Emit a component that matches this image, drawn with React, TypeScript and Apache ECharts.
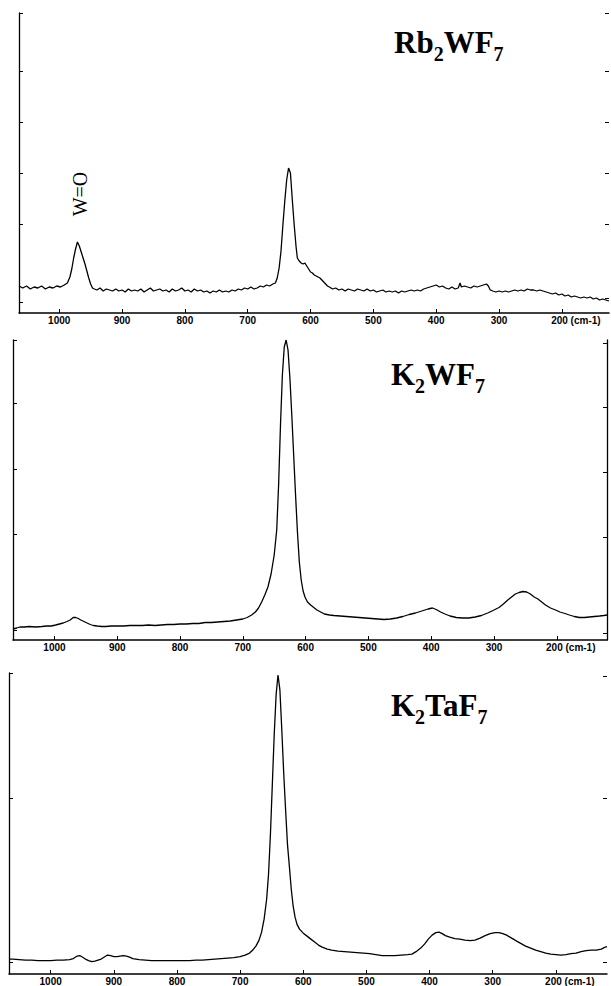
import React, { useEffect, useRef } from "react";
import * as echarts from "echarts";

const X_TICKS = [1000, 900, 800, 700, 600, 500, 400, 300, 200];

const P1_LEFT_TICKS = [300, 242, 191, 140, 89, 11];
const P1_RIGHT_TICKS = [300, 242, 191, 140, 89, 15];
const P2_LEFT_TICKS = [300, 237, 171, 106, 10];
const P2_RIGHT_TICKS = [297, 233, 168, 103, 7];
const P3_LEFT_TICKS = [302, 176, 12];
const P3_RIGHT_TICKS = [299, 176, 12];

const RB2WF7: [number, number][] = [
  [1064, 27], [1058, 25], [1052, 27], [1046, 24], [1040, 26], [1034, 25], [1028, 27], [1022, 24], [1016, 26], [1010, 25],
  [1004, 27], [998, 26], [992, 28], [987, 30], [983, 36], [980, 44], [977, 55], [974, 64], [971, 71], [968, 67],
  [965, 61], [962, 55], [959, 49], [956, 42], [953, 35], [950, 29], [947, 25], [944, 24], [940, 23], [935, 25],
  [930, 22], [925, 24], [920, 23], [915, 22], [910, 24], [905, 22], [900, 23], [895, 21], [890, 24], [885, 22],
  [880, 23], [875, 22], [870, 24], [865, 21], [860, 23], [855, 25], [850, 22], [845, 23], [840, 24], [835, 22],
  [830, 23], [825, 21], [820, 24], [815, 22], [810, 23], [805, 25], [800, 22], [795, 23], [790, 21], [785, 24],
  [780, 22], [775, 23], [770, 21], [765, 22], [760, 20], [755, 22], [750, 21], [745, 23], [740, 21], [735, 22],
  [730, 21], [725, 23], [720, 22], [715, 24], [710, 23], [705, 25], [700, 24], [695, 26], [690, 24], [685, 25],
  [680, 27], [675, 26], [670, 28], [665, 27], [660, 29], [656, 30], [653, 35], [650, 45], [647, 62], [644, 88],
  [641, 112], [638, 133], [635, 145], [632, 140], [629, 113], [626, 88], [623, 66], [621, 55], [618, 52], [615, 50],
  [612, 49], [609, 50], [606, 47], [603, 44], [600, 41], [597, 40], [594, 38], [591, 37], [588, 36], [585, 35],
  [582, 33], [579, 31], [576, 29], [573, 27], [570, 26], [565, 24], [560, 25], [555, 23], [550, 24], [545, 22],
  [540, 24], [535, 23], [530, 22], [525, 24], [520, 23], [515, 22], [510, 24], [505, 22], [500, 23], [495, 21],
  [490, 22], [485, 23], [480, 21], [475, 22], [470, 21], [465, 22], [460, 20], [455, 22], [450, 21], [445, 22],
  [440, 23], [435, 22], [430, 23], [425, 22], [420, 24], [415, 25], [410, 26], [405, 27], [400, 28], [395, 26],
  [390, 27], [385, 25], [380, 24], [375, 26], [370, 24], [365, 25], [362, 30], [360, 26], [355, 27], [350, 26],
  [345, 25], [340, 27], [335, 26], [330, 27], [325, 28], [320, 29], [317, 27], [314, 23], [310, 22], [305, 21],
  [300, 22], [295, 21], [290, 22], [285, 21], [280, 22], [275, 23], [270, 22], [265, 23], [260, 22], [255, 24],
  [250, 23], [245, 23], [240, 22], [235, 23], [230, 22], [225, 21], [220, 20], [215, 19], [210, 20], [205, 18],
  [200, 19], [195, 17], [190, 18], [185, 16], [180, 17], [175, 16], [170, 15], [165, 16], [160, 15], [155, 16],
  [150, 14], [145, 15], [140, 13], [135, 14], [130, 13], [125, 12],
];

const K2WF7: [number, number][] = [
  [1066, 11], [1060, 12], [1055, 13], [1048, 13], [1040, 13.5], [1030, 13], [1020, 13.5], [1012, 14], [1005, 14], [998, 15],
  [992, 16], [986, 17], [980, 18.5], [975, 20], [970, 22.5], [966, 22.5], [962, 21.5], [958, 20], [953, 18.5], [948, 17],
  [943, 15.5], [938, 14.5], [932, 14], [925, 13.5], [918, 13.5], [910, 14], [900, 14], [890, 14], [880, 14.5], [870, 14.5],
  [860, 14.5], [850, 15], [840, 14.5], [830, 15], [820, 15.5], [810, 15.5], [800, 16], [790, 16], [780, 16.5], [770, 16.5],
  [760, 17.5], [750, 17.5], [740, 18], [730, 18.5], [720, 19], [710, 20], [700, 21], [693, 22.5], [686, 25], [680, 28],
  [675, 32], [670, 38], [665, 45], [660, 53], [655, 66], [650, 85], [646, 110], [643, 155], [640, 215], [637, 265],
  [634, 293], [631, 300], [628, 290], [625, 262], [622, 225], [619, 185], [616, 145], [613, 108], [610, 78], [607, 60],
  [604, 49], [601, 43], [597, 38], [592, 35], [588, 33], [582, 30], [576, 28], [570, 26], [562, 25], [555, 24.5],
  [545, 24], [535, 23.5], [525, 23], [515, 22.5], [505, 22], [495, 21.5], [485, 21], [475, 20.5], [465, 21], [455, 22],
  [445, 23.5], [435, 25.5], [425, 27], [415, 29], [405, 31], [398, 32], [392, 30.5], [385, 28], [378, 26], [370, 24],
  [360, 22.5], [350, 22], [340, 22], [330, 23], [320, 24.5], [310, 27], [300, 30], [292, 32.5], [285, 36], [278, 40],
  [272, 43], [266, 46], [260, 47.5], [254, 48.5], [248, 48], [242, 46], [236, 43], [230, 41], [224, 38], [218, 35],
  [210, 32], [202, 30], [195, 28], [187, 26.5], [180, 25], [172, 23.5], [164, 22.5], [156, 22.5], [148, 23], [140, 23.5],
  [132, 24], [125, 24.5], [120, 25],
];

const K2TAF7: [number, number][] = [
  [1065, 15], [1060, 15], [1050, 14.5], [1040, 14], [1030, 14], [1020, 13.5], [1010, 13.5], [1000, 13.5], [990, 14], [980, 14],
  [970, 14.5], [964, 15.5], [958, 18], [954, 18.5], [950, 17], [945, 15], [940, 13.5], [935, 12.5], [930, 13], [925, 14],
  [920, 15], [915, 17], [910, 19], [905, 18.5], [900, 17.5], [895, 17.5], [890, 18], [885, 18.5], [880, 18], [875, 17],
  [870, 15.5], [860, 14.5], [850, 14], [840, 13.5], [830, 13.5], [820, 13.5], [810, 13.5], [800, 13.5], [790, 13.5], [780, 13.5],
  [770, 14], [760, 14], [750, 14.5], [740, 15], [730, 15.5], [720, 16], [710, 16.5], [700, 17.5], [692, 19], [685, 21],
  [680, 24], [675, 28], [670, 34], [666, 42], [662, 55], [658, 75], [655, 100], [652, 140], [649, 190], [646, 240],
  [643, 280], [640, 300], [637, 285], [634, 245], [631, 202], [628, 165], [625, 130], [622, 108], [619, 85], [616, 68],
  [613, 57], [610, 50], [606, 45], [600, 41], [594, 38], [588, 35], [582, 32], [576, 29], [570, 27], [562, 25],
  [555, 24], [545, 23], [535, 22.5], [525, 22], [515, 21.5], [505, 21], [495, 20.5], [485, 19.5], [475, 18.5], [465, 18.5],
  [455, 18.5], [445, 19], [435, 19.5], [428, 20], [420, 23], [414, 26], [408, 30], [402, 35], [396, 39], [390, 41.5],
  [385, 42], [380, 40.5], [375, 38.5], [368, 37], [360, 35.5], [352, 35], [344, 34], [336, 33.5], [328, 34], [320, 36],
  [312, 38.5], [304, 40.5], [296, 41.5], [290, 41.5], [284, 40.5], [278, 39], [270, 36], [262, 33], [255, 30.5], [248, 28],
  [240, 26], [232, 24], [224, 22.5], [216, 21], [208, 20], [200, 19.5], [192, 19], [184, 19.5], [176, 20.5], [168, 21],
  [160, 22.5], [152, 23.5], [144, 24], [136, 24], [128, 25], [122, 27], [119, 27.5],
];

const LABEL_WO = "W=O";
const WO_POS: [number, number] = [967, 119];

const SERIF = "'Liberation Serif', 'Times New Roman', serif";
const SANS = "'Liberation Sans', Arial, sans-serif";

function xAxis(i: number, min: number, max: number, margin: number) {
  return {
    type: "value",
    gridIndex: i,
    min,
    max,
    inverse: true,
    axisLine: { show: true, onZero: false, lineStyle: { color: "#000", width: 1.5 } },
    axisTick: { show: true, inside: true, length: 4, customValues: X_TICKS, lineStyle: { color: "#000", width: 1 } },
    axisLabel: {
      customValues: X_TICKS,
      margin,
      fontSize: 10,
      fontWeight: "bold",
      fontFamily: SANS,
      color: "#000",
      formatter: (v: number) => (v === 200 ? "{u|200 (cm-1)}" : String(v)),
      rich: {
        u: { fontSize: 10, fontWeight: "bold", fontFamily: SANS, color: "#000", padding: [0, 0, 0, 28] },
      },
    },
    splitLine: { show: false },
  };
}

function yAxis(i: number, max: number, pos: string, ticks: number[], line: boolean) {
  return {
    type: "value",
    gridIndex: i,
    min: 0,
    max,
    position: pos,
    axisLine: { show: line, onZero: false, lineStyle: { color: "#000", width: 1.3 } },
    axisTick: { show: true, inside: true, length: 4, customValues: ticks, lineStyle: { color: "#000", width: 1 } },
    axisLabel: { show: false },
    splitLine: { show: false },
  };
}

function titleRich(main1: string, sub1: string, main2: string, sub2: string) {
  return `{a|${main1}}{s|${sub1}}{a|${main2}}{s|${sub2}}`;
}

export default function App() {
  const ref = useRef<HTMLDivElement>(null);
  useEffect(() => {
    const chart = echarts.init(ref.current!, null, { renderer: "svg" });
    const rich = {
      a: { fontSize: 31, fontWeight: "bold", fontFamily: SERIF, color: "#000", lineHeight: 32, verticalAlign: "top" },
      s: { fontSize: 20, fontWeight: "bold", fontFamily: SERIF, color: "#000", lineHeight: 20, verticalAlign: "top", padding: [17, 0, 0, 0] },
    };
    const lineStyle = { color: "#000", width: 1.3 };
    chart.setOption({
      animation: false,
      backgroundColor: "#fff",
      title: [
        { text: titleRich("Rb", "2", "WF", "7"), left: 394, top: 27, padding: 0, textStyle: { rich } },
        { text: titleRich("K", "2", "WF", "7"), left: 391, top: 359, padding: 0, textStyle: { rich } },
        { text: titleRich("K", "2", "TaF", "7"), left: 391, top: 690, padding: 0, textStyle: { rich } },
      ],
      grid: [
        { left: 19, top: 13, width: 590, height: 300 },
        { left: 13, top: 340, width: 594, height: 300 },
        { left: 9, top: 673, width: 598, height: 302 },
      ],
      xAxis: [xAxis(0, 125, 1064, 2), xAxis(1, 120, 1066, 2), xAxis(2, 119, 1066, 2)],
      yAxis: [
        yAxis(0, 300, "left", P1_LEFT_TICKS, true),
        yAxis(0, 300, "right", P1_RIGHT_TICKS, false),
        yAxis(1, 300, "left", P2_LEFT_TICKS, true),
        yAxis(1, 300, "right", P2_RIGHT_TICKS, true),
        yAxis(2, 302, "left", P3_LEFT_TICKS, true),
        yAxis(2, 302, "right", P3_RIGHT_TICKS, false),
      ],
      series: [
        {
          type: "line",
          xAxisIndex: 0,
          yAxisIndex: 0,
          data: RB2WF7,
          showSymbol: false,
          lineStyle,
          markPoint: {
            symbolSize: 0,
            data: [
              {
                coord: WO_POS,
                label: {
                  show: true,
                  formatter: LABEL_WO,
                  position: "inside",
                  rotate: 90,
                  fontSize: 20,
                  fontFamily: SERIF,
                  color: "#000",
                },
              },
            ],
          },
        },
        { type: "line", xAxisIndex: 1, yAxisIndex: 2, data: K2WF7, showSymbol: false, lineStyle },
        { type: "line", xAxisIndex: 2, yAxisIndex: 4, data: K2TAF7, showSymbol: false, lineStyle },
      ],
    });
    return () => chart.dispose();
  }, []);
  return (
    <div
      ref={ref}
      style={{ position: "fixed", left: 0, top: 0, width: 611, height: 986, background: "#fff" }}
    />
  );
}
